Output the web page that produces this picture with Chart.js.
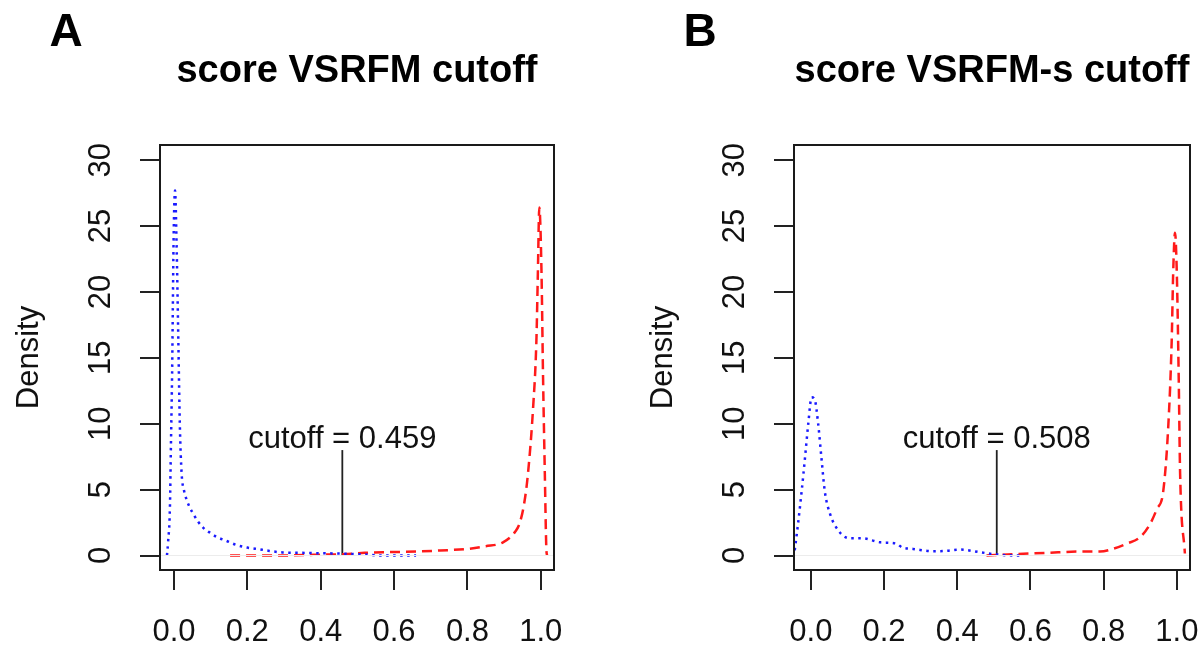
<!DOCTYPE html>
<html>
<head>
<meta charset="utf-8">
<script src="https://cdn.jsdelivr.net/npm/chart.js@4.4.1/dist/chart.umd.min.js"></script>
<style>
  html, body { margin: 0; padding: 0; background: #fff; }
  #wrap { position: relative; width: 1202px; height: 645px; overflow: hidden; }
  .panel { position: absolute; top: 0; height: 645px; }
</style>
</head>
<body>
<div id="wrap">
  <div class="panel" style="left:0px;width:601px"><canvas id="chartA" width="601" height="645"></canvas></div>
  <div class="panel" style="left:634px;width:568px"><canvas id="chartB" width="568" height="645"></canvas></div>
</div>
<script>
// axes
const xTicks = [0, 0.2, 0.4, 0.6, 0.8, 1.0];
const yTicks = [0, 5, 10, 15, 20, 25, 30];
const yRange = [-1.1, 31.15];

// panel A : score VSRFM
const titleA = "score VSRFM cutoff";
const xRangeA = [-0.038, 1.036];
const cutA = 0.459;
const negA_x = [-0.019, -0.016, -0.011, -0.008, -0.005, -0.003, -0.001, 0.003, 0.007, 0.012, 0.016, 0.021, 0.027, 0.035, 0.044, 0.052, 0.065, 0.08, 0.1, 0.117, 0.144, 0.17, 0.2, 0.226, 0.26, 0.297, 0.35, 0.4, 0.452, 0.515, 0.57, 0.66];
const negA_y = [0, 1.0, 3.6, 8.7, 13.8, 18.8, 23.9, 27.7, 23.9, 16.3, 10.0, 6.2, 5.0, 4.2, 3.6, 3.2, 2.6, 2.1, 1.7, 1.4, 1.1, 0.8, 0.6, 0.5, 0.35, 0.23, 0.2, 0.17, 0.15, 0.08, 0, 0];
const posA_x = [0.153, 0.22, 0.297, 0.38, 0.46, 0.52, 0.57, 0.66, 0.725, 0.8, 0.85, 0.897, 0.93, 0.943, 0.955, 0.965, 0.979, 0.988, 0.992, 0.996, 1.002, 1.006, 1.011, 1.015, 1.017];
const posA_y = [0, 0, 0, 0.05, 0.1, 0.2, 0.25, 0.3, 0.38, 0.5, 0.7, 1.0, 1.8, 2.5, 4.0, 6.2, 11.2, 16.3, 21.4, 26.4, 21.4, 13.8, 6.2, 0.6, 0];

// panel B : score VSRFM-s
const titleB = "score VSRFM-s cutoff";
const xRangeB = [-0.046, 1.036];
const cutB = 0.508;
const negB_x = [-0.044, -0.035, -0.025, -0.016, -0.007, 0.002, 0.011, 0.02, 0.029, 0.038, 0.052, 0.075, 0.107, 0.142, 0.19, 0.234, 0.25, 0.279, 0.333, 0.37, 0.407, 0.462, 0.5, 0.563, 0.57];
const negB_y = [0.4, 2.4, 4.9, 7.4, 10.0, 12.0, 11.8, 10.0, 7.4, 4.9, 3.2, 1.9, 1.3, 1.3, 1.0, 0.9, 0.6, 0.5, 0.32, 0.35, 0.45, 0.25, 0.1, 0, 0];
const posB_x = [0.48, 0.552, 0.645, 0.735, 0.79, 0.825, 0.863, 0.9, 0.927, 0.945, 0.963, 0.977, 0.986, 0.99, 0.995, 1.0, 1.005, 1.009, 1.022];
const posB_y = [0, 0.1, 0.2, 0.3, 0.3, 0.5, 0.9, 1.4, 2.4, 3.5, 4.9, 10.0, 16.3, 21.4, 24.5, 21.4, 13.8, 6.2, 0.15];

const cutLineTop = 8;
const FONT = '"Liberation Sans", Arial, Helvetica, sans-serif';

function pts(xs, ys) {
  return xs.map((x, i) => ({x: x, y: ys[i]}));
}

// box, title, panel letter and cutoff label
const panelText = {
  id: 'panelText',
  afterDraw(chart, args, opts) {
    const ctx = chart.ctx;
    const a = chart.chartArea;
    ctx.save();
    ctx.strokeStyle = '#1a1a1a';
    ctx.lineWidth = 2;
    ctx.strokeRect(a.left, a.top, a.right - a.left, a.bottom - a.top);
    ctx.fillStyle = '#000';
    ctx.textAlign = 'center';
    ctx.textBaseline = 'alphabetic';
    ctx.font = 'bold 38px ' + FONT;
    ctx.fillText(opts.title, (a.left + a.right) / 2, 82);
    ctx.font = 'bold 46px ' + FONT;
    ctx.fillText(opts.letter, a.left - 94, 46);
    ctx.font = '31px ' + FONT;
    ctx.fillStyle = '#111';
    ctx.fillText(opts.label, chart.scales.x.getPixelForValue(opts.cut), chart.scales.y.getPixelForValue(cutLineTop) - 2);
    ctx.restore();
  }
};

function makePanel(id, letter, title, xRange, cut, negX, negY, posX, posY, padRight) {
  new Chart(document.getElementById(id), {
    type: 'line',
    data: {
      datasets: [
        {
          // zero line
          data: pts(xRange, [0, 0]),
          borderColor: '#ececec',
          borderWidth: 1,
          pointRadius: 0
        },
        {
          data: pts(negX, negY),
          borderColor: '#1a1aff',
          borderWidth: 2.5,
          borderDash: [2.5, 4.5],
          pointRadius: 0,
          cubicInterpolationMode: 'monotone'
        },
        {
          data: pts(posX, posY),
          borderColor: '#ff1a1a',
          borderWidth: 2.5,
          borderDash: [10, 6],
          pointRadius: 0,
          cubicInterpolationMode: 'monotone'
        },
        {
          // cutoff segment
          data: pts([cut, cut], [0, cutLineTop]),
          borderColor: '#222',
          borderWidth: 1.8,
          pointRadius: 0
        }
      ]
    },
    options: {
      responsive: false,
      animation: false,
      layout: { padding: { top: 145, right: padRight, left: 0, bottom: 0 } },
      plugins: {
        legend: { display: false },
        tooltip: { enabled: false },
        panelText: { title: title, letter: letter, cut: cut, label: 'cutoff = ' + cut.toFixed(3) }
      },
      scales: {
        x: {
          type: 'linear',
          min: xRange[0],
          max: xRange[1],
          afterBuildTicks: s => { s.ticks = xTicks.map(v => ({value: v})); },
          afterFit: s => { s.height = 75; s.paddingLeft = 0; s.paddingRight = 0; },
          grid: { drawOnChartArea: false, drawTicks: true, tickLength: 20, color: '#222', lineWidth: 2 },
          border: { display: true, color: '#1a1a1a', width: 2 },
          ticks: {
            padding: 24,
            color: '#111',
            font: { family: FONT, size: 31 },
            maxRotation: 0,
            autoSkip: false,
            callback: v => v.toFixed(1)
          }
        },
        y: {
          type: 'linear',
          min: yRange[0],
          max: yRange[1],
          afterBuildTicks: s => { s.ticks = yTicks.map(v => ({value: v})); },
          afterFit: s => { s.width = 160; },
          grid: { drawOnChartArea: false, drawTicks: true, tickLength: 20, color: '#222', lineWidth: 2 },
          border: { display: true, color: '#1a1a1a', width: 2 },
          title: {
            display: true,
            text: 'Density',
            color: '#111',
            font: { family: FONT, size: 31 },
            padding: { top: 11, bottom: 0 }
          },
          ticks: {
            padding: 21,
            color: '#111',
            font: { family: FONT, size: 31 },
            minRotation: 90,
            maxRotation: 90,
            crossAlign: 'center',
            autoSkip: false,
            callback: v => String(v)
          }
        }
      }
    },
    plugins: [panelText]
  });
}

makePanel('chartA', 'A', titleA, xRangeA, cutA, negA_x, negA_y, posA_x, posA_y, 47);
makePanel('chartB', 'B', titleB, xRangeB, cutB, negB_x, negB_y, posB_x, posB_y, 12);
</script>
</body>
</html>
